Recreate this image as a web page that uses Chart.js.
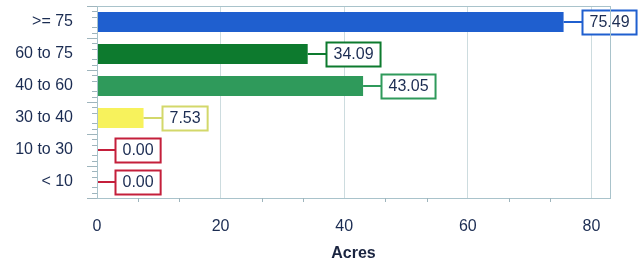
<!DOCTYPE html>
<html>
<head>
<meta charset="utf-8">
<script src="https://cdn.jsdelivr.net/npm/chart.js@4/dist/chart.umd.min.js"></script>
<style>
html,body{margin:0;padding:0;background:#fff;}
#wrap{width:643px;height:263px;position:relative;}
</style>
</head>
<body>
<div id="wrap"><canvas id="c" width="643" height="263"></canvas></div>
<script>
const categories = ['>= 75', '60 to 75', '40 to 60', '30 to 40', '10 to 30', '< 10'];
const acres = [75.49, 34.09, 43.05, 7.53, 0.00, 0.00];
const xTickValues = [0, 20, 40, 60, 80];
const axisTitle = 'Acres';

const barColors = ['#1f5fcf', '#0d7a2e', '#2f9a5b', '#f7f25c', '#c41f3b', '#c41f3b'];
const boxBorderColors = ['#1f5fcf', '#0d7a2e', '#2f9a5b', '#d3d86a', '#c41f3b', '#c41f3b'];
const textColor = '#1b2c52';
const FONT = '"Liberation Sans", Arial, sans-serif';

const labelPlugin = {
  id: 'valueBoxes',
  afterDatasetsDraw(chart) {
    const ctx = chart.ctx;
    const meta = chart.getDatasetMeta(0);
    ctx.save();
    ctx.font = '16px ' + FONT;
    meta.data.forEach((bar, i) => {
      const txt = acres[i].toFixed(2);
      const xEnd = bar.x;
      const y = bar.y;
      const gap = 18;
      const tw = ctx.measureText(txt).width;
      const bw = tw + 14, bh = 24;
      const bx = Math.round(xEnd + gap) + 0.5;
      const by = Math.round(y - bh / 2) + 0.5;
      ctx.strokeStyle = boxBorderColors[i];
      ctx.lineWidth = 2;
      ctx.beginPath();
      ctx.moveTo(xEnd, y);
      ctx.lineTo(bx, y);
      ctx.stroke();
      ctx.fillStyle = '#fff';
      ctx.fillRect(bx, by, bw, bh);
      ctx.strokeRect(bx, by, bw, bh);
      ctx.fillStyle = textColor;
      ctx.textBaseline = 'middle';
      ctx.textAlign = 'left';
      ctx.fillText(txt, bx + 7, y + 1);
    });
    ctx.restore();
  }
};

const framePlugin = {
  id: 'frame',
  afterDraw(chart) {
    const {ctx, chartArea: a, scales} = chart;
    ctx.save();
    ctx.strokeStyle = '#a9c3cb';
    ctx.lineWidth = 1;
    ctx.strokeRect(Math.round(a.left) + 0.5, Math.round(a.top) + 0.5, Math.round(a.right - a.left), Math.round(a.bottom - a.top));
    ctx.strokeStyle = '#9fb5bd';
    ctx.beginPath();
    const xs = scales.x;
    for (let k = 1; k * 20 / 3 < xs.max; k++) {
      if (k % 3 === 0) continue;
      const px = Math.round(xs.getPixelForValue(k * 20 / 3)) + 0.5;
      ctx.moveTo(px, a.bottom);
      ctx.lineTo(px, a.bottom + 4);
    }
    const ys = scales.y;
    for (let v = -0.5; v <= categories.length - 0.5 + 1e-6; v += 1 / 6) {
      const fr = Math.abs(v - Math.round(v));
      if (fr < 1e-6) continue;
      const py = Math.round(ys.getPixelForValue(v)) + 0.5;
      ctx.moveTo(a.left - 5, py);
      ctx.lineTo(a.left, py);
    }
    ctx.stroke();
    ctx.restore();
  }
};

new Chart(document.getElementById('c'), {
  type: 'bar',
  data: {
    labels: categories,
    datasets: [{
      data: acres,
      backgroundColor: barColors,
      borderWidth: 0,
      barPercentage: 0.63,
      categoryPercentage: 1
    }]
  },
  options: {
    indexAxis: 'y',
    responsive: false,
    animation: false,
    layout: {padding: {top: 6, right: 33, left: 0, bottom: 0}},
    plugins: {legend: {display: false}, tooltip: {enabled: false}},
    scales: {
      x: {
        min: 0,
        max: 83,
        afterBuildTicks(scale) { scale.ticks = xTickValues.map(v => ({value: v})); },
        afterFit(scale) { scale.height = 65; scale.paddingLeft = 0; scale.paddingRight = 0; },
        grid: {color: '#cddcdf', drawTicks: false, lineWidth: 1},
        border: {display: false},
        ticks: {color: textColor, font: {family: FONT, size: 16}, padding: 19},
        title: {display: true, text: axisTitle, color: '#1a2440', font: {family: FONT, size: 16, weight: 'bold'}, padding: {top: 0, bottom: 0}}
      },
      y: {
        afterFit(scale) { scale.width = 97; scale.paddingTop = 0; scale.paddingBottom = 0; },
        grid: {drawOnChartArea: false, drawTicks: true, tickLength: 10, tickColor: '#9fb5bd'},
        border: {display: false},
        ticks: {color: textColor, font: {family: FONT, size: 16}, padding: 14}
      }
    }
  },
  plugins: [labelPlugin, framePlugin]
});
</script>
</body>
</html>
